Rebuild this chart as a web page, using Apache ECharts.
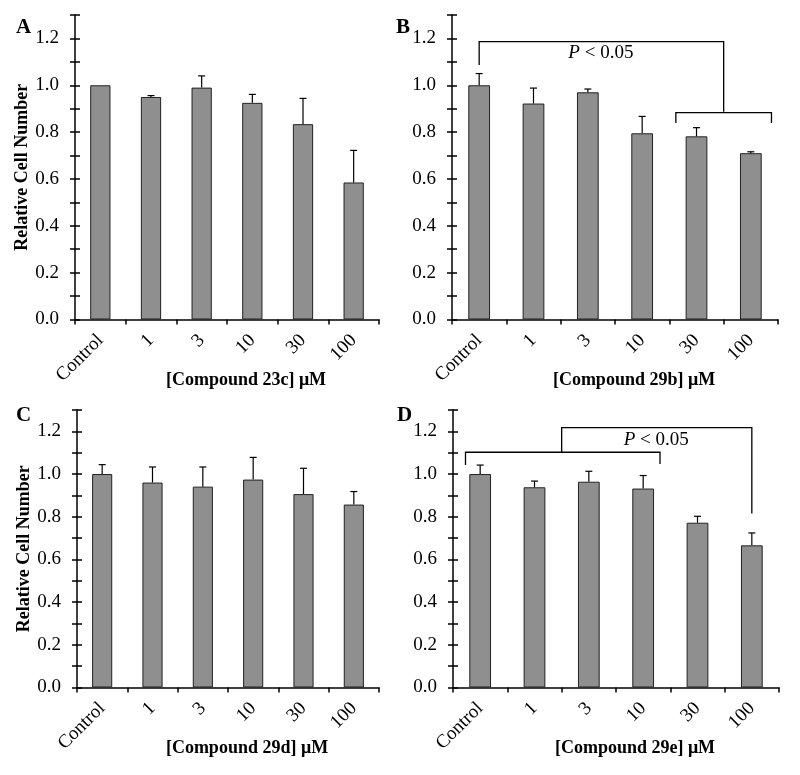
<!DOCTYPE html>
<html>
<head>
<meta charset="utf-8">
<script src="https://cdn.jsdelivr.net/npm/echarts@6/dist/echarts.min.js"></script>
<style>
  html, body { margin: 0; padding: 0; background: #fff; }
  #main { width: 800px; height: 775px; }
</style>
</head>
<body>
<div id="main"></div>
<script>
// categories (concentration, uM)
const categories = ['Control', '1', '3', '10', '30', '100']

// mean relative cell number and upper error for each panel
const meanA = [1.0, 0.95, 0.99, 0.925, 0.834, 0.585]
const errA = [0, 0.006, 0.05, 0.036, 0.11, 0.137]
const meanB = [1.0, 0.922, 0.97, 0.795, 0.782, 0.71]
const errB = [0.05, 0.066, 0.014, 0.072, 0.037, 0.006]
const meanC = [1.0, 0.96, 0.941, 0.974, 0.906, 0.857]
const errC = [0.044, 0.073, 0.092, 0.104, 0.121, 0.061]
const meanD = [1.0, 0.938, 0.964, 0.932, 0.772, 0.666]
const errD = [0.042, 0.029, 0.049, 0.061, 0.03, 0.058]

// significance brackets: [xStart, xEnd, y, leftLegEnd, rightLegEnd] (category units)
const bracketsB = [[0, 4.5, 1.186, 1.087, 0.887], [3.62, 5.38, 0.883, 0.839, 0.839]]
const bracketsD = [[-0.27, 3.31, 1.102, 1.042, 1.047], [1.5, 5, 1.217, 1.102, 0.815]]
const pLabelB = [2.24, 1.138]
const pLabelD = [3.24, 1.158]

const compounds = ['23c', '29b', '29d', '29e']
const panels = ['A', 'B', 'C', 'D']

const FONT = 'Liberation Serif, Times New Roman, serif'

const chart = echarts.init(document.getElementById('main'))

const grids = [
  { left: 75, top: 15, width: 304, height: 304.5 },
  { left: 452, top: 15, width: 326, height: 304.5 },
  { left: 77, top: 410, width: 302, height: 277.5 },
  { left: 453, top: 410, width: 326, height: 277.5 }
]

const xAxes = grids.map((g, i) => ({
  type: 'category',
  gridIndex: i,
  data: categories,
  axisLine: { lineStyle: { color: '#000', width: 1.5 } },
  axisTick: { show: true, length: 5, lineStyle: { color: '#000', width: 1.5 } },
  axisLabel: {
    rotate: 45, color: '#000', fontFamily: FONT, fontSize: 19, margin: 18,
    padding: [6, 0, 0, 0]
  },
  name: '[Compound ' + compounds[i] + '] μM',
  nameLocation: 'middle',
  nameGap: 52,
  nameMoveOverlap: false,
  nameTextStyle: {
    color: '#000', fontFamily: FONT, fontSize: 18, fontWeight: 'bold',
    padding: [0, 0, 0, 38]
  }
}))

const yAxes = []
grids.forEach((g, i) => {
  const showName = i === 0 || i === 2
  yAxes.push({
    type: 'value',
    gridIndex: i,
    min: 0,
    max: 1.3,
    interval: 0.1,
    splitLine: { show: false },
    axisLine: { show: true, lineStyle: { color: '#000', width: 1.5 } },
    axisTick: { show: true, length: 5, lineStyle: { color: '#000', width: 1.5 } },
    axisLabel: {
      color: '#000', fontFamily: FONT, fontSize: 19, margin: 16,
      formatter: (v) => (Math.round(v * 10) % 2 === 0 ? v.toFixed(1) : '')
    },
    name: showName ? 'Relative Cell Number' : '',
    nameLocation: 'middle',
    nameGap: 44,
    nameMoveOverlap: false,
    nameTextStyle: { color: '#000', fontFamily: FONT, fontSize: 18, fontWeight: 'bold' }
  })
  // second axis just for the inner half of the crossing ticks
  yAxes.push({
    type: 'value',
    gridIndex: i,
    position: 'left',
    min: 0,
    max: 1.3,
    interval: 0.1,
    splitLine: { show: false },
    axisLine: { show: false },
    axisTick: { show: true, inside: true, length: 5, lineStyle: { color: '#000', width: 1.5 } },
    axisLabel: { show: false }
  })
})

function renderError(params, api) {
  const idx = api.value(0)
  const v = api.value(1)
  const e = api.value(2)
  if (!e) return null
  const p1 = api.coord([idx, v])
  const p2 = api.coord([idx, v + e])
  const style = { stroke: '#000', lineWidth: 1.2 }
  return {
    type: 'group',
    children: [
      { type: 'line', shape: { x1: p1[0], y1: p1[1], x2: p2[0], y2: p2[1] }, style },
      { type: 'line', shape: { x1: p2[0] - 3.5, y1: p2[1], x2: p2[0] + 3.5, y2: p2[1] }, style }
    ]
  }
}

function renderBracket(params, api) {
  const base = api.coord([0, 0])
  const band = api.size([1, 0])[0]
  const px = (v) => base[0] + v * band
  const py = (v) => api.coord([0, v])[1]
  const x1 = px(api.value(1))
  const x2 = px(api.value(2))
  const y = py(api.value(3))
  const ya = py(api.value(4))
  const yb = py(api.value(5))
  return {
    type: 'polyline',
    shape: { points: [[x1, ya], [x1, y], [x2, y], [x2, yb]] },
    style: { stroke: '#000', fill: null, lineWidth: 1.3 }
  }
}

function renderP(params, api) {
  const base = api.coord([0, 0])
  const band = api.size([1, 0])[0]
  const x = base[0] + api.value(1) * band
  const y = api.coord([0, api.value(2)])[1]
  return {
    type: 'text',
    x: x,
    y: y,
    style: {
      text: '{i|P} < 0.05',
      fontFamily: FONT,
      fontSize: 19,
      fill: '#000',
      align: 'center',
      verticalAlign: 'middle',
      rich: { i: { fontStyle: 'italic', fontFamily: FONT, fontSize: 19 } }
    }
  }
}

const means = [meanA, meanB, meanC, meanD]
const errs = [errA, errB, errC, errD]
const series = []
means.forEach((m, i) => {
  series.push({
    type: 'bar',
    xAxisIndex: i,
    yAxisIndex: i * 2,
    data: m,
    barWidth: '40%',
    itemStyle: { color: '#8f8f8f', borderColor: '#222', borderWidth: 1 },
    silent: true
  })
  series.push({
    type: 'custom',
    xAxisIndex: i,
    yAxisIndex: i * 2,
    renderItem: renderError,
    encode: { x: 0, y: 1 },
    data: m.map((v, k) => [k, v, errs[i][k]]),
    silent: true,
    z: 3
  })
})

;[[1, bracketsB, pLabelB], [3, bracketsD, pLabelD]].forEach(([i, br, pl]) => {
  series.push({
    type: 'custom',
    xAxisIndex: i,
    yAxisIndex: i * 2,
    renderItem: renderBracket,
    encode: { x: 0, y: 3 },
    data: br.map((b) => [0].concat(b)),
    clip: false,
    silent: true,
    z: 4
  })
  series.push({
    type: 'custom',
    xAxisIndex: i,
    yAxisIndex: i * 2,
    renderItem: renderP,
    encode: { x: 0, y: 2 },
    data: [[0, pl[0], pl[1]]],
    clip: false,
    silent: true,
    z: 4
  })
})

const letterPos = [[16, 17], [396, 17], [16, 405], [397, 405]]

chart.setOption({
  animation: false,
  backgroundColor: '#fff',
  grid: grids,
  xAxis: xAxes,
  yAxis: yAxes,
  series: series,
  graphic: panels.map((p, i) => ({
    type: 'text',
    left: letterPos[i][0],
    top: letterPos[i][1],
    style: { text: p, fontFamily: FONT, fontSize: 21, fontWeight: 'bold', fill: '#000' }
  }))
})
</script>
</body>
</html>
